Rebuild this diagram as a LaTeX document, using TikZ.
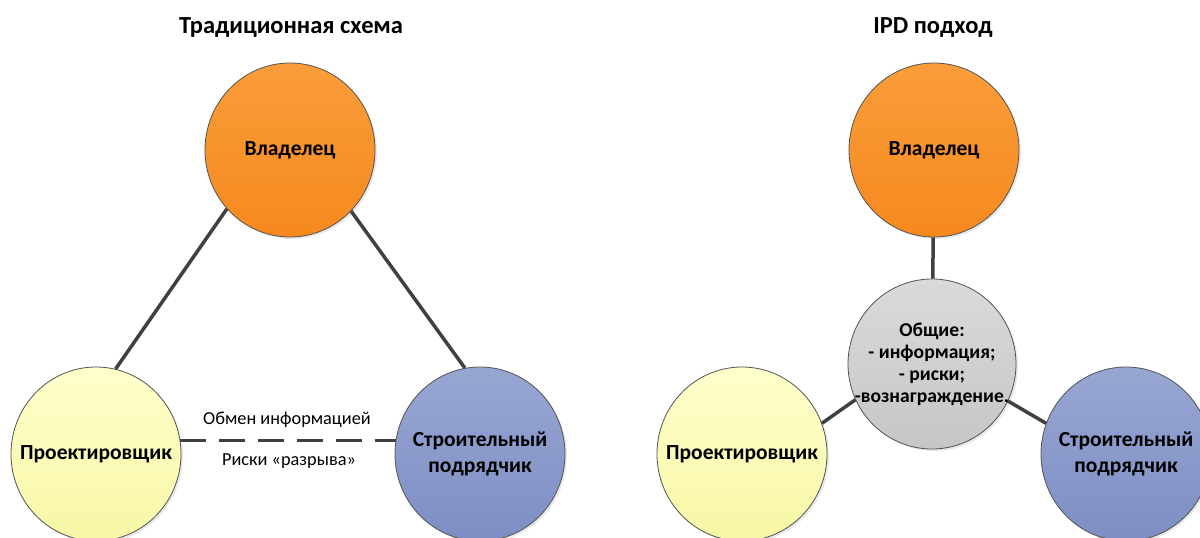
\documentclass[tikz,border=0pt]{standalone}
\usepackage{fontspec}
\setmainfont{Carlito}
\usetikzlibrary{shapes.geometric,shadows}
\definecolor{orangeT}{HTML}{FA9D3A}
\definecolor{orangeB}{HTML}{F6891E}
\definecolor{yellowT}{HTML}{FFFFCC}
\definecolor{yellowB}{HTML}{F7F7A6}
\definecolor{blueT}{HTML}{98A6D2}
\definecolor{blueB}{HTML}{7D8EC4}
\definecolor{greyT}{HTML}{DADADA}
\definecolor{greyB}{HTML}{C6C6C6}
\definecolor{linec}{HTML}{404040}
\tikzset{
  blob/.style={ellipse, draw=linec!90, line width=0.8pt, minimum width=170pt, minimum height=174pt,
    inner sep=0pt,
    drop shadow={opacity=0.18, shadow xshift=2pt, shadow yshift=-2pt}},
  blobtext/.style={align=center, font=\fontsize{21.5}{26}\selectfont\bfseries, inner sep=0pt},
  sharedtext/.style={align=center, font=\fontsize{19.6}{22}\selectfont\bfseries, inner sep=0pt},
  owner/.style={blob, top color=orangeT, bottom color=orangeB},
  designer/.style={blob, top color=yellowT, bottom color=yellowB},
  builder/.style={blob, top color=blueT, bottom color=blueB},
  shared/.style={blob, top color=greyT, bottom color=greyB, minimum width=168pt, minimum height=170pt},
  link/.style={draw=linec, line width=3.5pt},
  dlink/.style={draw=linec, line width=3.5pt, dash pattern=on 26pt off 13pt},
  title/.style={font=\fontsize{24.5}{28}\selectfont\bfseries},
  lbl/.style={font=\fontsize{18.3}{22}\selectfont}
}
\begin{document}
\begin{tikzpicture}[x=1pt,y=-1pt]
\useasboundingbox (0,0) rectangle (1200,538);
\clip (0,0) rectangle (1200,538);
% left scheme
\node[title] (t1) at (291,28) {Традиционная схема};
\node[owner, label={[blobtext]center:Владелец}] (o1) at (290,150) {};
\node[designer, label={[blobtext]center:Проектировщик}] (p1) at (96,454) {};
\node[builder, label={[blobtext]center:Строительный\\подрядчик}] (c1) at (480,454) {};
\draw[link] (o1.223) -- (p1.77);
\draw[link] (o1.315) -- (c1.100);
\draw[dlink] (p1.9) -- (c1.171);
\node[lbl] (l1) at (287,420) {Обмен информацией};
\node[lbl] (l2) at (289,461) {Риски «разрыва»};
% right scheme
\node[title] (t2) at (933,28) {IPD подход};
\node[owner, label={[blobtext]center:Владелец}] (o2) at (934,150) {};
\node[shared, label={[sharedtext]center:Общие:\\- информация;\\- риски;\\-вознаграждение.}] (g) at (932,364) {};
\node[designer, label={[blobtext]center:Проектировщик}] (p2) at (742,454) {};
\node[builder, label={[blobtext]center:Строительный\\подрядчик}] (c2) at (1126,454) {};
\draw[link] (o2) -- (g);
\draw[link] (p2.21) -- (g.205);
\draw[link] (g.334) -- (c2.159);
\end{tikzpicture}
\end{document}
